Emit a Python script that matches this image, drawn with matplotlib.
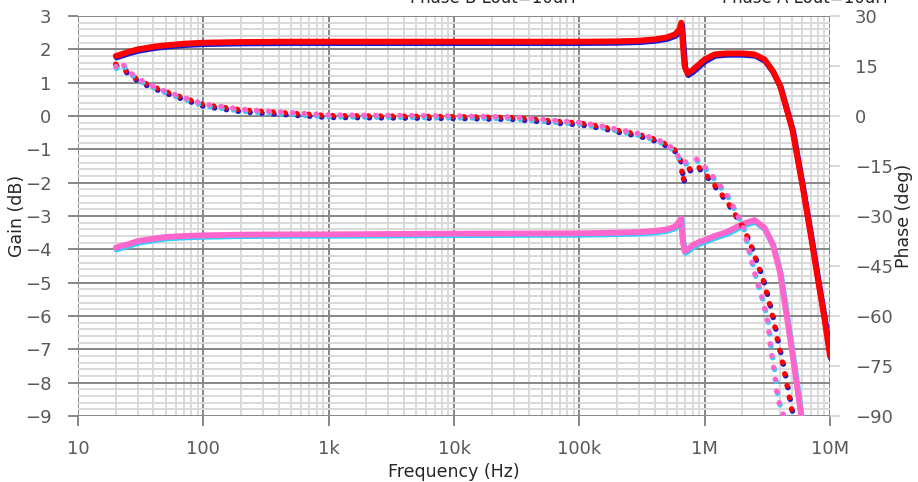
import numpy as np
import matplotlib
matplotlib.use("Agg")
import matplotlib.pyplot as plt
import matplotlib.transforms as mtransforms
from matplotlib.ticker import FixedLocator, NullFormatter

# frequency grid (Hz)
freq = [20, 22, 25, 30, 40, 50, 70, 100, 200, 500, 1e3, 1e4, 1e5, 2e5, 3e5, 4e5,
        5e5, 5.8e5, 6.3e5, 6.5e5, 6.65e5, 6.9e5, 7.3e5, 8e5, 9e5, 1e6, 1.2e6,
        1.5e6, 2e6, 2.5e6, 3e6, 3.5e6, 4e6, 5e6, 6e6, 7e6, 8e6, 9e6, 1e7]

# gain (dB) - Lout=10uH
gain_b = [1.80, 1.85, 1.92, 2.00, 2.08, 2.12, 2.17, 2.20, 2.22, 2.23, 2.23, 2.23,
          2.23, 2.24, 2.26, 2.30, 2.36, 2.45, 2.60, 2.80, 2.30, 1.50, 1.28, 1.38,
          1.55, 1.70, 1.85, 1.88, 1.88, 1.85, 1.70, 1.35, 0.90, -0.40, -2.05,
          -3.55, -4.90, -6.05, -7.20]
gain_a = [1.79, 1.84, 1.91, 1.99, 2.07, 2.11, 2.16, 2.19, 2.21, 2.22, 2.22, 2.22,
          2.22, 2.23, 2.25, 2.29, 2.35, 2.44, 2.58, 2.78, 2.28, 1.48, 1.26, 1.36,
          1.53, 1.68, 1.84, 1.87, 1.87, 1.84, 1.68, 1.33, 0.88, -0.42, -2.08,
          -3.58, -4.93, -6.08, -7.23]
# gain (dB) - second pair
gain_d = [-3.95, -3.90, -3.85, -3.75, -3.68, -3.63, -3.60, -3.58, -3.56, -3.55,
          -3.55, -3.53, -3.52, -3.50, -3.48, -3.45, -3.40, -3.32, -3.15, -3.08,
          -3.70, -4.05, -4.00, -3.88, -3.78, -3.72, -3.60, -3.48, -3.24, -3.12,
          -3.35, -3.85, -4.70, -7.10, -9.20, np.nan, np.nan, np.nan, np.nan]
gain_c = [-3.97, -3.92, -3.86, -3.77, -3.69, -3.64, -3.61, -3.59, -3.57, -3.56,
          -3.56, -3.54, -3.53, -3.51, -3.49, -3.46, -3.41, -3.33, -3.17, -3.10,
          -3.72, -4.07, -4.02, -3.90, -3.80, -3.74, -3.62, -3.50, -3.26, -3.14,
          -3.37, -3.88, -4.73, -7.14, -9.25, np.nan, np.nan, np.nan, np.nan]

# phase (deg)
freq_ph = [20, 22, 25, 30, 40, 50, 70, 100, 200, 500, 1e3, 1e4, 3e4, 7e4, 1e5,
           1.5e5, 2e5, 3e5, 4e5, 5e5, 5.8e5, 6.3e5, 6.55e5, 6.65e5, 7.3e5,
           8.6e5, 1e6, 1.2e6, 1.5e6, 2e6, 2.3e6, 2.55e6, 2.9e6, 3.2e6, 3.35e6,
           3.6e6, 3.8e6, 4.1e6, 4.5e6, 5e6, 5.2e6]
phase_b = [15.5, 14.5, 13.2, 10.8, 8.7, 7.3, 5.4, 3.4, 1.8, 0.8, 0.1, -0.2, -0.5,
           -1.7, -2.1, -3.2, -4.3, -5.6, -7.0, -8.6, -10.3, -12.0, -15.6, -19.5,
           -16.2, -14.7, -17.1, -20.8, -25.5, -33.0, -38.0, -42.8, -48.5, -54.5,
           -57.5, -62.5, -67.0, -72.5, -80.0, -89.0, -92.0]
phase_a = [15.3, 14.3, 13.0, 10.6, 8.5, 7.1, 5.2, 3.2, 1.6, 0.6, -0.1, -0.4, -0.7,
           -1.9, -2.3, -3.4, -4.5, -5.8, -7.2, -8.8, -10.5, -12.2, -15.8, -19.7,
           -16.4, -14.9, -17.3, -21.0, -25.7, -33.2, -38.2, -43.0, -48.7, -54.7,
           -57.7, -62.7, -67.2, -72.7, -80.2, -89.2, -92.2]
phase_d = [14.8, 16.3, 13.6, 11.2, 8.9, 7.4, 5.5, 3.6, 2.0, 1.0, 0.3, 0.0, -0.3,
           -1.5, -1.9, -3.0, -4.0, -5.3, -6.8, -8.4, -10.5, -12.8, -13.8, -14.2,
           -13.5, -12.9, -15.3, -18.8, -23.5, -32.5, -41.7, -48.3, -55.2, -62.1,
           -69.3, -76.8, -84.3, -88.2, -92.0, np.nan, np.nan]
phase_c = [14.6, 16.1, 13.4, 11.0, 8.7, 7.2, 5.3, 3.4, 1.8, 0.8, 0.1, -0.2, -0.5,
           -1.7, -2.1, -3.2, -4.2, -5.5, -7.0, -8.6, -10.7, -13.0, -14.0, -14.4,
           -13.7, -13.1, -15.5, -19.0, -23.7, -32.7, -41.9, -48.5, -55.4, -62.3,
           -69.5, -77.0, -84.5, -88.4, -92.2, np.nan, np.nan]

xticks = [10, 100, 1e3, 1e4, 1e5, 1e6, 1e7]
xlabels = ["10", "100", "1k", "10k", "100k", "1M", "10M"]
gain_ticks = list(range(-9, 4))
phase_ticks = list(range(-90, 31, 15))

major_c = "#878787"
minor_c = "#d9d9d9"
label_c = "#595959"
title_c = "#262626"

fig = plt.figure(figsize=(9.18, 4.82), dpi=100)
ax = fig.add_axes([78 / 918, 66 / 482, 752 / 918, 400 / 482])
ax2 = ax.twinx()

ax.set_xscale("log")
ax.set_xlim(10, 1e7)
ax.set_ylim(-9, 3)
ax2.set_ylim(-90, 30)

minor_x = [m * 10.0 ** e for e in range(1, 7) for m in range(2, 10)]
ax.xaxis.set_major_locator(FixedLocator(xticks))
ax.xaxis.set_minor_locator(FixedLocator(minor_x))
ax.xaxis.set_minor_formatter(NullFormatter())
ax.set_xticks(xticks, xlabels)
ax.set_yticks(gain_ticks)
ax.yaxis.set_minor_locator(FixedLocator(np.arange(-9, 3.01, 0.2)))
ax2.set_yticks(phase_ticks)

ax.grid(which="minor", color=minor_c, lw=1.4, zorder=0)
ax.grid(which="major", color=major_c, lw=1.4, zorder=0)
ax.set_axisbelow(True)

for a in (ax, ax2):
    for s in a.spines.values():
        s.set_visible(False)

ax.tick_params(axis="both", which="minor", length=0)
ax.tick_params(axis="y", which="major", length=7, width=1.4, color=major_c,
               labelsize=13, labelcolor=label_c, pad=12)
ax.tick_params(axis="x", which="major", length=7, width=1.4, color=major_c,
               labelsize=13, labelcolor=label_c, pad=10)
ax2.tick_params(axis="y", length=7, width=1.4, color=minor_c,
                labelsize=13, labelcolor=label_c, pad=11)

ax.set_xlabel("Frequency (Hz)", fontsize=12.5, color=title_c)
ax.set_ylabel("Gain (dB)", fontsize=12.5, color=title_c)
ax2.set_ylabel("Phase (deg)", fontsize=12.5, color=title_c)
ax.xaxis.set_label_coords(0.5, -0.1175)
ax.yaxis.set_label_coords(-0.069, 0.5)
ax2.yaxis.set_label_coords(1.087, 0.5)

shift = mtransforms.offset_copy(ax.transData, fig=fig, x=0.6, y=-0.8, units="points")
shift2 = mtransforms.offset_copy(ax2.transData, fig=fig, x=0.6, y=-0.8, units="points")

# gain curves
ax.plot(freq, gain_a, color="#1a1acc", lw=4.2, transform=shift, solid_capstyle="round")
ax.plot(freq, gain_b, color="#ff0000", lw=4.2, solid_capstyle="round")
ax.plot(freq, gain_c, color="#33ccff", lw=4.2, transform=shift, solid_capstyle="round")
ax.plot(freq, gain_d, color="#ff66cc", lw=4.2, solid_capstyle="round")

# phase curves
dots = (0, (0.05, 2.1))
ax2.plot(freq_ph, phase_a, color="#1a1acc", lw=4, ls=dots, dash_capstyle="round",
         transform=shift2)
ax2.plot(freq_ph, phase_b, color="#ff0000", lw=4, ls=dots, dash_capstyle="round")
ax2.plot(freq_ph, phase_c, color="#33ccff", lw=4, ls=dots, dash_capstyle="round",
         transform=shift2)
ax2.plot(freq_ph, phase_d, color="#ff66cc", lw=4, ls=dots, dash_capstyle="round")

# legend entries, cut by the top edge as in the original
fig.text(410 / 918, 1 - 3 / 482, "Phase B Lout=10uH", fontsize=12, color=title_c,
         va="baseline", ha="left")
fig.text(722 / 918, 1 - 3 / 482, "Phase A Lout=10uH", fontsize=12, color=title_c,
         va="baseline", ha="left")

fig.savefig("out.png", dpi=100)
